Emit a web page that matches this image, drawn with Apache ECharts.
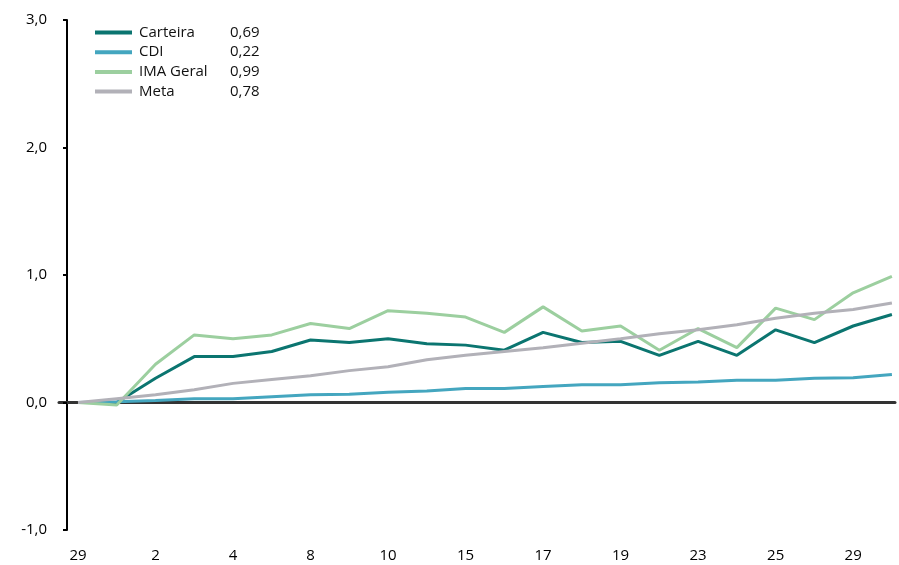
<!DOCTYPE html>
<html>
<head>
<meta charset="utf-8">
<script src="https://cdn.jsdelivr.net/npm/echarts@6/dist/echarts.min.js"></script>
<style>
  html, body { margin: 0; padding: 0; background: #fff; }
  #chart { width: 899px; height: 565px; }
</style>
</head>
<body>
<div id="chart"></div>
<script>
// Trading days of the period (first point is the last day of the previous month)
const days = ['29','1','2','3','4','5','8','9','10','11','15','16','17','18','19','22','23','24','25','26','29','30'];

// Accumulated return (%)
const carteira = [0, 0.00, 0.19, 0.36, 0.36, 0.40, 0.49, 0.47, 0.50, 0.46, 0.45, 0.41, 0.55, 0.47, 0.48, 0.37, 0.48, 0.37, 0.57, 0.47, 0.60, 0.69];
const cdi      = [0, 0.005, 0.015, 0.03, 0.03, 0.045, 0.06, 0.065, 0.08, 0.09, 0.11, 0.11, 0.125, 0.14, 0.14, 0.155, 0.16, 0.175, 0.175, 0.19, 0.195, 0.22];
const imaGeral = [0, -0.02, 0.30, 0.53, 0.50, 0.53, 0.62, 0.58, 0.72, 0.70, 0.67, 0.55, 0.75, 0.56, 0.60, 0.41, 0.58, 0.43, 0.74, 0.65, 0.86, 0.99];
const meta     = [0, 0.03, 0.06, 0.10, 0.15, 0.18, 0.21, 0.25, 0.28, 0.335, 0.37, 0.40, 0.43, 0.465, 0.50, 0.54, 0.57, 0.61, 0.66, 0.70, 0.73, 0.78];

// Period totals shown beside the legend names
const seriesNames = ['Carteira', 'CDI', 'IMA Geral', 'Meta'];
const totals = ['0,69', '0,22', '0,99', '0,78'];
const colors = ['#0b7570', '#44a6bf', '#9ccf9f', '#b2b1b8'];

// Tick labels on the value axis
const yTicks = [-1, 0, 1, 2, 3];
const xLabelIdx = [0, 2, 4, 6, 8, 10, 12, 14, 16, 18, 20];

const FONT = '"Open Sans", "Noto Sans", sans-serif';
const toPairs = arr => arr.map((v, i) => [i, v]);
const fmtNum = v => v.toFixed(1).replace('.', ',');

const chart = echarts.init(document.getElementById('chart'), null, { renderer: 'canvas' });

const allSeries = [carteira, cdi, imaGeral, meta].map((arr, k) => ({
  name: seriesNames[k],
  type: 'line',
  xAxisIndex: 0,
  data: toPairs(arr),
  showSymbol: false,
  symbol: 'none',
  smooth: false,
  lineStyle: { width: 3, color: colors[k] },
  itemStyle: { color: colors[k] },
  z: 3,
  animation: false
}));

chart.setOption({
  animation: false,
  backgroundColor: '#ffffff',
  textStyle: { fontFamily: FONT },
  grid: { left: 59, right: 4, top: 20, bottom: 35, containLabel: false },
  legend: {
    orient: 'vertical',
    left: 90,
    top: 20,
    itemWidth: 37,
    itemHeight: 4,
    itemGap: 4.7,
    icon: 'rect',
    data: seriesNames,
    formatter: name => '{n|' + name + '}{v|' + totals[seriesNames.indexOf(name)] + '}',
    textStyle: {
      fontFamily: FONT,
      fontSize: 15,
      color: '#111',
      lineHeight: 15,
      rich: {
        n: { width: 91, fontSize: 15, fontFamily: FONT, color: '#111', padding: [0, 0, 0, 2] },
        v: { fontSize: 15, fontFamily: FONT, color: '#111' }
      }
    }
  },
  xAxis: [
    {
      // labelled axis along the bottom
      type: 'value',
      position: 'bottom',
      min: -0.49,
      max: 21.08,
      axisLine: { show: false, onZero: false },
      axisTick: { show: false },
      splitLine: { show: false },
      axisLabel: {
        customValues: xLabelIdx,
        formatter: v => days[Math.round(v)],
        fontSize: 15,
        color: '#000',
        fontFamily: FONT,
        margin: 18
      }
    },
    {
      // zero reference line
      type: 'value',
      position: 'bottom',
      min: -0.49,
      max: 21.08,
      axisLine: { show: true, onZero: true, lineStyle: { color: '#333', width: 3 } },
      axisTick: { show: false },
      axisLabel: { show: false },
      splitLine: { show: false }
    }
  ],
  yAxis: {
    type: 'value',
    min: -1,
    max: 3,
    interval: 1,
    offset: -8,
    axisLine: { show: true, onZero: false, lineStyle: { color: '#000', width: 2 } },
    axisTick: { show: true, length: 4, inside: false, lineStyle: { color: '#000', width: 2 } },
    splitLine: { show: false },
    axisLabel: {
      customValues: yTicks,
      formatter: v => fmtNum(v),
      fontSize: 15,
      color: '#000',
      fontFamily: FONT,
      margin: 20
    }
  },
  series: allSeries
});
</script>
</body>
</html>
